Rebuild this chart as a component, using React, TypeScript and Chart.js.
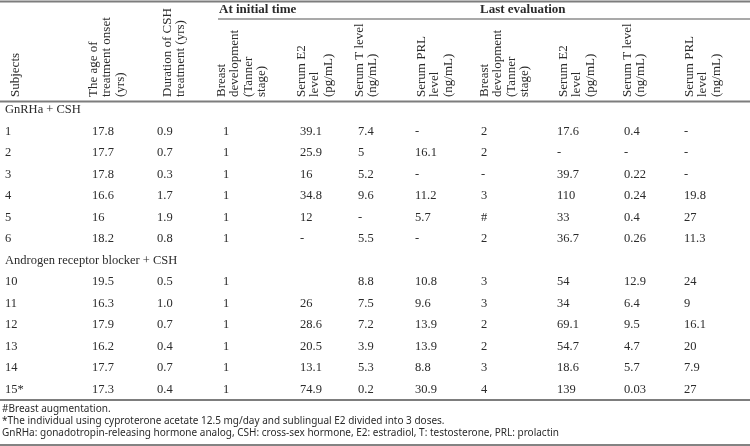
import React, { useEffect, useRef } from "react";
import { Chart, registerables } from "chart.js";

Chart.register(...registerables);

// ---------- DATA ----------
const columnHeaders: string[][] = [
  ["Subjects"],
  ["The age of", "treatment onset", "(yrs)"],
  ["Duration of CSH", "treatment (yrs)"],
  ["Breast", "development", "(Tanner", "stage)"],
  ["Serum E2", "level", "(pg/mL)"],
  ["Serum T level", "(ng/mL)"],
  ["Serum PRL", "level", "(ng/mL)"],
  ["Breast", "development", "(Tanner", "stage)"],
  ["Serum E2", "level", "(pg/mL)"],
  ["Serum T level", "(ng/mL)"],
  ["Serum PRL", "level", "(ng/mL)"],
];
const spanHeaders = ["At initial time", "Last evaluation"];
const groupLabels = ["GnRHa + CSH", "Androgen receptor blocker + CSH"];
const groupOfRow = [0, 0, 0, 0, 0, 0, 1, 1, 1, 1, 1, 1];

const subjects = ["1", "2", "3", "4", "5", "6", "10", "11", "12", "13", "14", "15*"];
const ageOnset = ["17.8", "17.7", "17.8", "16.6", "16", "18.2", "19.5", "16.3", "17.9", "16.2", "17.7", "17.3"];
const durationCSH = ["0.9", "0.7", "0.3", "1.7", "1.9", "0.8", "0.5", "1.0", "0.7", "0.4", "0.7", "0.4"];
const initBreast = ["1", "1", "1", "1", "1", "1", "1", "1", "1", "1", "1", "1"];
const initE2 = ["39.1", "25.9", "16", "34.8", "12", "-", "", "26", "28.6", "20.5", "13.1", "74.9"];
const initT = ["7.4", "5", "5.2", "9.6", "-", "5.5", "8.8", "7.5", "7.2", "3.9", "5.3", "0.2"];
const initPRL = ["-", "16.1", "-", "11.2", "5.7", "-", "10.8", "9.6", "13.9", "13.9", "8.8", "30.9"];
const lastBreast = ["2", "2", "-", "3", "#", "2", "3", "3", "2", "2", "3", "4"];
const lastE2 = ["17.6", "-", "39.7", "110", "33", "36.7", "54", "34", "69.1", "54.7", "18.6", "139"];
const lastT = ["0.4", "-", "0.22", "0.24", "0.4", "0.26", "12.9", "6.4", "9.5", "4.7", "5.7", "0.03"];
const lastPRL = ["-", "-", "-", "19.8", "27", "11.3", "24", "9", "16.1", "20", "7.9", "27"];

const footnotes = [
  "#Breast augmentation.",
  "*The individual using cyproterone acetate 12.5 mg/day and sublingual E2 divided into 3 doses.",
  "GnRHa: gonadotropin-releasing hormone analog, CSH: cross-sex hormone, E2: estradiol, T: testosterone, PRL: prolactin",
];

const columns = [subjects, ageOnset, durationCSH, initBreast, initE2, initT, initPRL, lastBreast, lastE2, lastT, lastPRL];

// ---------- LAYOUT (scale units) ----------
const W = 750;
const H = 446;
const colX = [5, 92, 157, 223, 300, 358, 415, 481, 557, 624, 684];
const headerX = [9, 87, 161, 215, 295, 353, 415, 478, 557, 621, 683];
const headerLineStep = 13.3;
const headerBottom = 97;
const spanX = [219, 480];
const spanY = 10;
const spanLineY = 19;
const spanLineStart = 218;
const topLineY = 1.5;
const headerRuleY = 101.5;
const bodyTop = 110;
const rowStep = 21.5;
const bodyRuleY = 400;
const footY = [409, 421, 433];
const bottomRuleY = 445;

const TEXT = "#2b2b2b";
const RULE = "#7d7d7d";
const DATA_FONT = "12.5px 'Liberation Serif'";
const HEAD_FONT = "13px 'Liberation Serif'";
const SPAN_FONT = "bold 13px 'Liberation Serif'";
const FOOT_FONT = "10px 'Noto Sans'";

// slot index of each data row (group labels take a slot)
function slotOfRow(r: number) {
  return r + 1 + groupOfRow[r];
}
function slotOfGroup(g: number) {
  return groupOfRow.indexOf(g) + g;
}

export default function App() {
  const ref = useRef<HTMLCanvasElement>(null);

  useEffect(() => {
    document.body.style.margin = "0";
    const canvas = ref.current!;

    const datasets = columns.map((col, c) => ({
      label: columnHeaders[c].join(" "),
      data: col.map((_, r) => ({ x: colX[c], y: bodyTop + rowStep * slotOfRow(r) })),
      cellText: col,
      pointRadius: 0,
      pointHoverRadius: 0,
      showLine: false,
    }));
    const groupDataset = {
      label: "groups",
      data: groupLabels.map((_, g) => ({ x: colX[0], y: bodyTop + rowStep * slotOfGroup(g) })),
      cellText: groupLabels,
      pointRadius: 0,
      pointHoverRadius: 0,
      showLine: false,
    };

    const bgPlugin = {
      id: "bg",
      beforeDraw(chart: any) {
        const ctx = chart.ctx;
        ctx.save();
        ctx.fillStyle = "#ffffff";
        ctx.fillRect(0, 0, chart.width, chart.height);
        ctx.restore();
      },
    };

    const tablePlugin = {
      id: "table",
      afterDatasetsDraw(chart: any) {
        const ctx: CanvasRenderingContext2D = chart.ctx;
        const xs = chart.scales.x;
        const ys = chart.scales.y;
        const px = (v: number) => xs.getPixelForValue(v);
        const py = (v: number) => ys.getPixelForValue(v);
        ctx.save();

        const rule = (y: number, x0: number, x1: number, w: number, color: string) => {
          ctx.beginPath();
          ctx.strokeStyle = color;
          ctx.lineWidth = w;
          ctx.moveTo(px(x0), py(y));
          ctx.lineTo(px(x1), py(y));
          ctx.stroke();
        };
        rule(topLineY, 0, W, 2, RULE);
        rule(spanLineY, spanLineStart, W, 1.5, "#8c8c8c");
        rule(headerRuleY, 0, W, 2, RULE);
        rule(bodyRuleY, 0, W, 2, RULE);
        rule(bottomRuleY, 0, W, 1.5, "#5a5a5a");

        // spanning headers
        ctx.fillStyle = TEXT;
        ctx.font = SPAN_FONT;
        ctx.textAlign = "left";
        ctx.textBaseline = "middle";
        spanHeaders.forEach((t, i) => ctx.fillText(t, px(spanX[i]), py(spanY)));

        // rotated column headers
        ctx.font = HEAD_FONT;
        columnHeaders.forEach((lines, c) => {
          lines.forEach((line, i) => {
            ctx.save();
            ctx.translate(px(headerX[c] + i * headerLineStep), py(headerBottom));
            ctx.rotate(-Math.PI / 2);
            ctx.textAlign = "left";
            ctx.textBaseline = "top";
            ctx.fillText(line, 0, 0);
            ctx.restore();
          });
        });

        // cells
        ctx.font = DATA_FONT;
        ctx.textAlign = "left";
        ctx.textBaseline = "middle";
        chart.data.datasets.forEach((ds: any, i: number) => {
          const meta = chart.getDatasetMeta(i);
          meta.data.forEach((el: any, j: number) => {
            const t = ds.cellText[j];
            if (t) ctx.fillText(t, el.x, el.y);
          });
        });

        // footnotes
        ctx.font = FOOT_FONT;
        footnotes.forEach((t, i) => ctx.fillText(t, px(2), py(footY[i])));
        ctx.restore();
      },
    };

    const chart = new Chart(canvas, {
      type: "scatter",
      data: { datasets: [...datasets, groupDataset] as any },
      options: {
        responsive: false,
        animation: false,
        devicePixelRatio: 1,
        events: [],
        layout: { padding: 0 },
        plugins: { legend: { display: false }, tooltip: { enabled: false } },
        scales: {
          x: { type: "linear", min: 0, max: W, display: false },
          y: { type: "linear", min: 0, max: H, reverse: true, display: false },
        },
      },
      plugins: [bgPlugin, tablePlugin],
    });
    return () => chart.destroy();
  }, []);

  return (
    <div style={{ position: "fixed", left: 0, top: 0, width: W, height: H }}>
      <canvas ref={ref} width={W} height={H} style={{ display: "block" }} />
    </div>
  );
}
